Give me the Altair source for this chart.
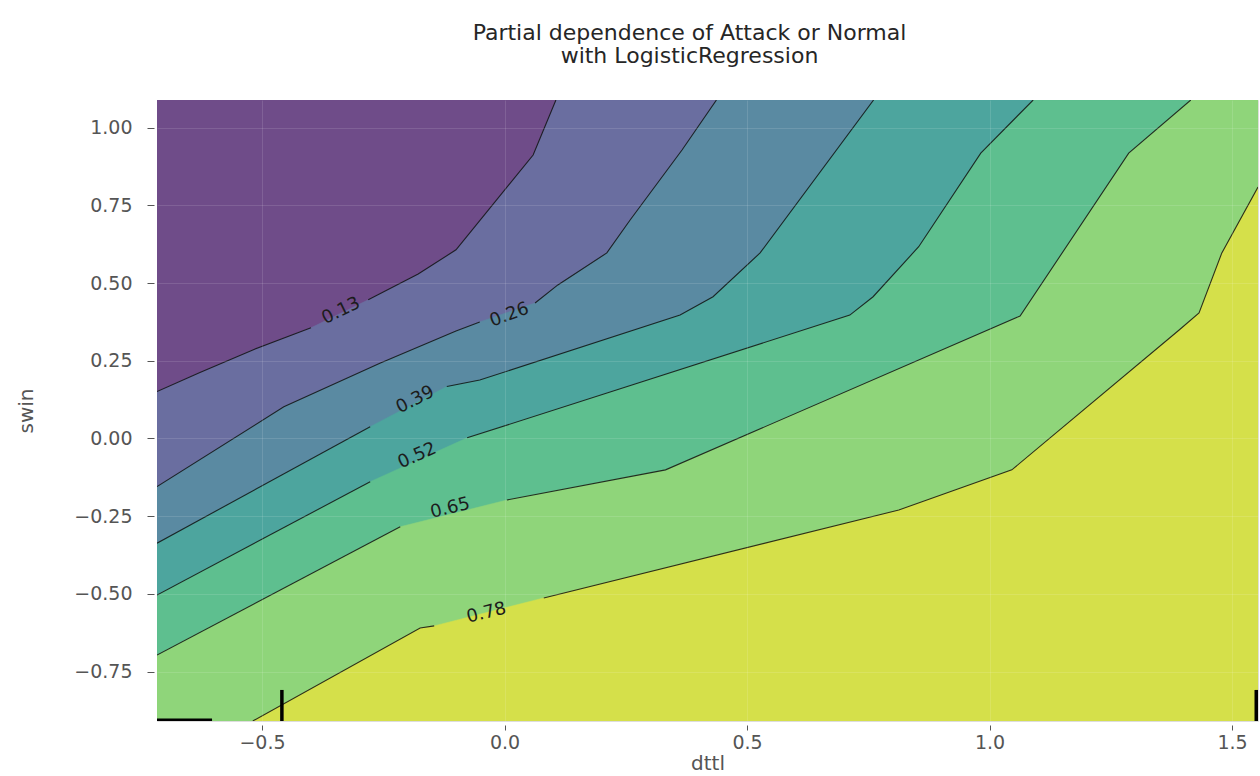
import altair as alt
import pandas as pd

# ---------------- data ----------------
X_DOMAIN = [-0.7165, 1.5536]
Y_DOMAIN = [-0.909, 1.089]
X_TICKS = [-0.5, 0.0, 0.5, 1.0, 1.5]
Y_TICKS = [-0.75, -0.5, -0.25, 0.0, 0.25, 0.5, 0.75, 1.0]

LEVELS = ["0.13", "0.26", "0.39", "0.52", "0.65", "0.78"]

# contour vertices (each contour in two pieces, broken at its inline label)
L013_X1 = [-0.7165, -0.628, -0.519, -0.399]
L013_Y1 = [0.151, 0.212, 0.285, 0.356]
L013_X2 = [-0.281, -0.178, -0.100, 0.059, 0.106]
L013_Y2 = [0.446, 0.529, 0.607, 0.912, 1.089]

L026_X1 = [-0.7165, -0.455, -0.257, -0.100, -0.051]
L026_Y1 = [-0.155, 0.102, 0.242, 0.346, 0.375]
L026_X2 = [0.063, 0.110, 0.211, 0.259, 0.366, 0.437]
L026_Y2 = [0.436, 0.494, 0.597, 0.703, 0.928, 1.089]

L039_X1 = [-0.7165, -0.277]
L039_Y1 = [-0.337, 0.038]
L039_X2 = [-0.119, -0.051, 0.362, 0.430, 0.527, 0.761]
L039_Y2 = [0.167, 0.188, 0.397, 0.456, 0.597, 1.089]

L052_X1 = [-0.7165, -0.277]
L052_Y1 = [-0.504, -0.139]
L052_X2 = [-0.077, 0.712, 0.760, 0.854, 0.982, 1.090]
L052_Y2 = [0.002, 0.397, 0.456, 0.617, 0.918, 1.089]

L065_X1 = [-0.7165, -0.215]
L065_Y1 = [-0.697, -0.284]
L065_X2 = [0.005, 0.332, 1.063, 1.287, 1.415]
L065_Y2 = [-0.198, -0.101, 0.394, 0.918, 1.089]

L078_X1 = [-0.519, -0.174, -0.145]
L078_Y1 = [-0.909, -0.610, -0.603]
L078_X2 = [0.081, 0.813, 1.046, 1.391, 1.432, 1.479, 1.5536]
L078_Y2 = [-0.513, -0.230, -0.101, 0.349, 0.404, 0.597, 0.809]

# inline contour labels
LABEL_X = [-0.337, 0.010, -0.184, -0.180, -0.112, -0.037]
LABEL_Y = [0.410, 0.397, 0.124, -0.056, -0.225, -0.562]
LABEL_ANGLE = [334, 340, 333, 336, 346, 346]

# decile rug marks
X_DECILES = [-0.459, 1.550]
Y_DECILES = [-0.906]

# band colours (viridis, alpha-blended on white)
BAND_COLORS = ["#6f4c89", "#6a6ea0", "#5a8aa2", "#4da59e", "#5ebf8f", "#8fd57a", "#d5e04a"]

# ---------------- build tables ----------------
CONTOURS = [
    ("0.13", L013_X1, L013_Y1, L013_X2, L013_Y2),
    ("0.26", L026_X1, L026_Y1, L026_X2, L026_Y2),
    ("0.39", L039_X1, L039_Y1, L039_X2, L039_Y2),
    ("0.52", L052_X1, L052_Y1, L052_X2, L052_Y2),
    ("0.65", L065_X1, L065_Y1, L065_X2, L065_Y2),
    ("0.78", L078_X1, L078_Y1, L078_X2, L078_Y2),
]

x0, x1 = X_DOMAIN
y0, y1 = Y_DOMAIN

poly_frames = []
line_rows = []
for lev, ax, ay, bx, by in CONTOURS:
    xs = ax + bx
    ys = ay + by
    if ys[-1] >= y1:  # contour leaves through the top edge
        corners = [(x1, y1), (x1, y0), (x0, y0)]
    else:             # contour leaves through the right edge
        corners = [(x1, y0)]
    pts = list(zip(xs, ys)) + corners
    poly_frames.append(pd.DataFrame({"i": range(len(pts)),
                                     "x": [p[0] for p in pts],
                                     "y": [p[1] for p in pts]}))
    for s, (sx, sy) in enumerate([(ax, ay), (bx, by)]):
        for i, (x, y) in enumerate(zip(sx, sy)):
            line_rows.append({"seg": f"{lev}-{s}", "i": i, "x": x, "y": y})

line_df = pd.DataFrame(line_rows)
label_df = pd.DataFrame({"x": LABEL_X, "y": LABEL_Y, "t": LEVELS, "a": LABEL_ANGLE})
xdec_df = pd.DataFrame({"x": X_DECILES})
ydec_df = pd.DataFrame({"y": Y_DECILES})

# ---------------- scales / axes ----------------
W, H = 1101, 621
FONT = "DejaVu Sans"

x_scale = alt.Scale(domain=X_DOMAIN, nice=False, zero=False)
y_scale = alt.Scale(domain=Y_DOMAIN, nice=False, zero=False)

x_axis = alt.Axis(values=X_TICKS, format=".1f", labelFont=FONT, labelFontSize=19,
                  labelColor="#555555", tickColor="#555555", tickSize=5, tickWidth=1,
                  offset=4, labelPadding=3, domain=False, grid=True, gridColor="white",
                  gridOpacity=0.12, titleFont=FONT, titleFontSize=20, titleColor="#555555",
                  titleFontWeight="normal", titleY=28, titleBaseline="top", zindex=1)
y_axis = alt.Axis(values=Y_TICKS, format=".2f", labelFont=FONT, labelFontSize=19,
                  labelColor="#555555", tickColor="#555555", tickSize=7, tickWidth=1,
                  offset=3, labelPadding=15, domain=False, grid=True, gridColor="white",
                  gridOpacity=0.12, titleFont=FONT, titleFontSize=20, titleColor="#555555",
                  titleFontWeight="normal", titleX=-128, titleY=H / 2, titleAngle=270,
                  titleAlign="center", titleBaseline="middle", zindex=1)

xe = alt.X("x:Q", scale=x_scale, axis=x_axis, title="dttl")
ye = alt.Y("y:Q", scale=y_scale, axis=y_axis, title="swin")

# lowest band (value below the first level) fills the whole plot area
background = alt.Chart(pd.DataFrame({"b": [0]})).mark_rect(color=BAND_COLORS[0]).encode(
    x=alt.value(0), x2=alt.value(W), y=alt.value(0), y2=alt.value(H))

layers = [background]
for k, df in enumerate(poly_frames):
    c = BAND_COLORS[k + 1]
    layers.append(
        alt.Chart(df).mark_line(filled=True, interpolate="linear-closed", fill=c,
                                stroke=c, strokeWidth=0.5, clip=True)
        .encode(x=xe, y=ye, order=alt.Order("i:Q"))
    )

lines = alt.Chart(line_df).mark_line(color="#111111", strokeWidth=1.1, opacity=0.85, clip=True).encode(
    x=xe, y=ye, detail="seg:N", order=alt.Order("i:Q"))

labels = alt.Chart(label_df).mark_text(font=FONT, fontSize=18, color="#1c1c1c",
                                       align="center", baseline="middle").encode(
    x=xe, y=ye, text="t:N", angle=alt.Angle("a:Q", scale=None))

xrug = alt.Chart(xdec_df).mark_rule(color="black", strokeWidth=3.5, clip=True).encode(
    x=xe, y=alt.value(H), y2=alt.value(H - 0.05 * H))
yrug = alt.Chart(ydec_df).mark_rule(color="black", strokeWidth=3, clip=True).encode(
    y=ye, x=alt.value(0), x2=alt.value(0.05 * W))

chart = alt.layer(*layers, lines, labels, xrug, yrug).properties(
    width=W, height=H,
    title=alt.TitleParams(["Partial dependence of Attack or Normal", "with LogisticRegression"],
                          font=FONT, fontSize=22, fontWeight="normal", color="#262626",
                          lineHeight=23, anchor="middle", baseline="bottom", offset=10, dx=-18),
    autosize=alt.AutoSizeParams(type="none"),
    padding={"left": 157, "top": 100, "right": 2, "bottom": 55},
).configure_view(stroke=None).configure(background="white")

chart.save("out.html", embed_options={"renderer": "svg", "actions": False})
